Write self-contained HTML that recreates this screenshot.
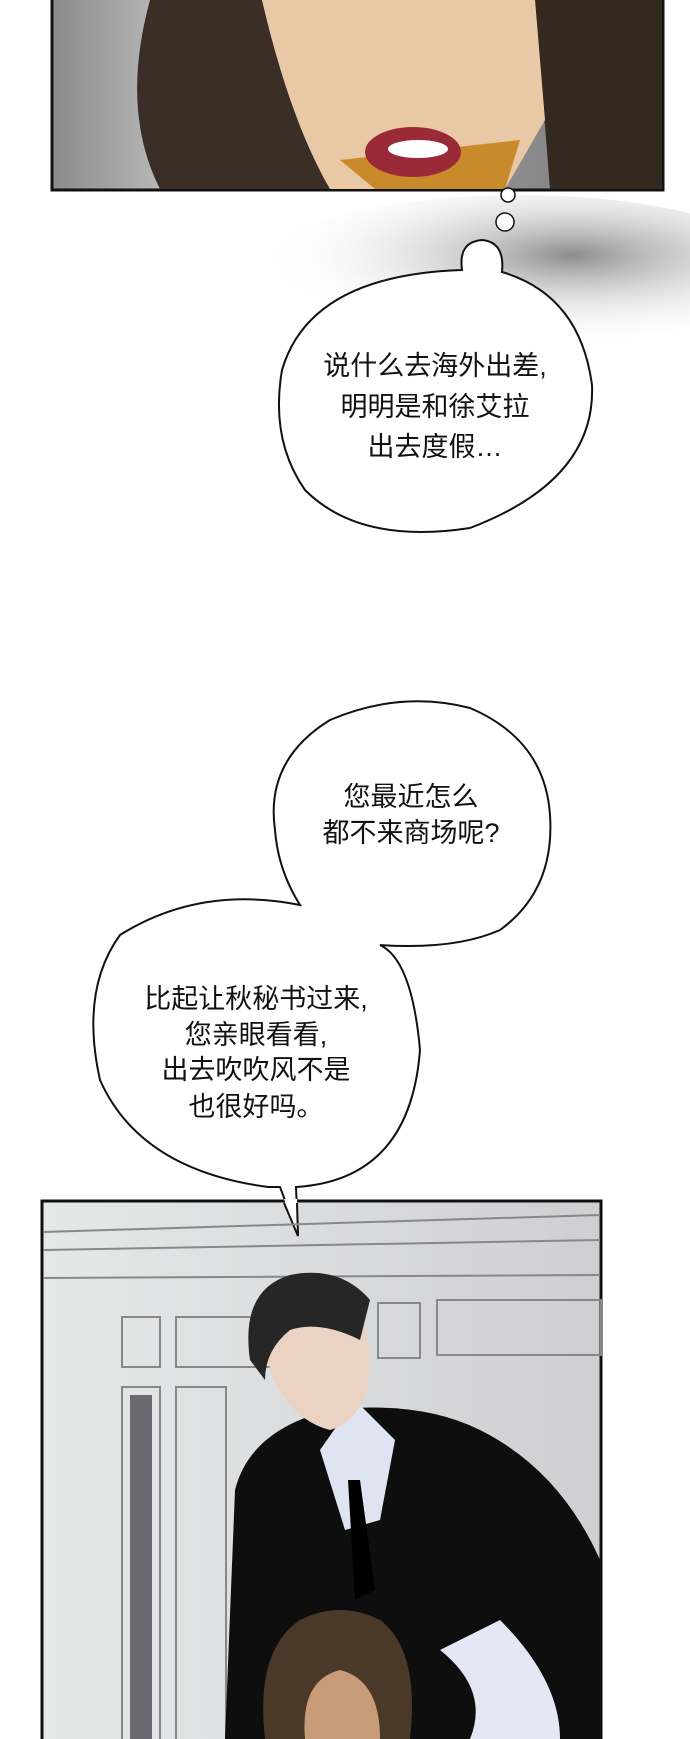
<!DOCTYPE html>
<html><head><meta charset="utf-8"><style>
body{margin:0;background:#fff;width:690px;height:1739px;overflow:hidden}
svg{display:block}
text{font-family:"Liberation Sans","Noto Sans CJK SC",sans-serif;font-size:27px;fill:#111;text-anchor:middle}
</style></head><body>
<svg width="690" height="1739" viewBox="0 0 690 1739">
<defs>
<linearGradient id="bg1" x1="0" x2="1"><stop offset="0" stop-color="#8a8a8a"/><stop offset="0.2" stop-color="#bdbdbd"/><stop offset="1" stop-color="#777"/></linearGradient>
<radialGradient id="smoke" cx="0.6" cy="0.4" r="0.6"><stop offset="0" stop-color="#666" stop-opacity="0.75"/><stop offset="1" stop-color="#fff" stop-opacity="0"/></radialGradient>
<linearGradient id="bg2" x1="0" x2="1"><stop offset="0" stop-color="#e6e8e8"/><stop offset="1" stop-color="#cfcfd2"/></linearGradient>
</defs>
<rect x="52" y="-2" width="611" height="192" fill="url(#bg1)" stroke="#111" stroke-width="3"/>
<path d="M150 0 Q120 110 160 189 L330 189 Q290 120 262 0Z" fill="#3a2e26"/>
<path d="M535 0 L550 189 L662 189 L662 0Z" fill="#34291f"/>
<path d="M262 0 Q290 120 330 189 L505 189 L545 120 L535 0Z" fill="#e9c8a6"/>
<path d="M340 160 L375 189 L505 189 L520 140Z" fill="#c88a2a"/>
<ellipse cx="413" cy="152" rx="48" ry="25" fill="#9a2a38"/>
<ellipse cx="418" cy="149" rx="30" ry="9" fill="#fff"/>
<ellipse cx="520" cy="270" rx="260" ry="75" fill="url(#smoke)"/>
<circle cx="508" cy="195" r="7" fill="#fff" stroke="#111" stroke-width="1.5"/>
<circle cx="505" cy="222" r="9" fill="#fff" stroke="#111" stroke-width="1.5"/>
<path d="M462 270 Q458 242 482 240 Q505 242 502 272 Q580 295 592 385 Q596 480 470 528 Q360 545 305 490 Q270 440 282 370 Q310 275 462 270Z" fill="#fff" stroke="#111" stroke-width="2"/>
<text x="435" y="375">说什么去海外出差,</text>
<text x="435" y="416">明明是和徐艾拉</text>
<text x="435" y="456">出去度假…</text>
<path d="M280 1187 L298 1235 L296 1187 Q410 1180 420 1050 Q412 960 380 945 Q455 950 500 930 Q555 890 550 815 Q545 740 470 708 Q400 690 330 720 Q265 760 275 830 Q278 870 300 905 Q200 885 120 935 Q80 990 100 1080 Q140 1170 268 1187Z" fill="#fff" stroke="#111" stroke-width="2"/>
<text x="411" y="806">您最近怎么</text>
<text x="411" y="842">都不来商场呢?</text>
<text x="256" y="1008">比起让秋秘书过来,</text>
<text x="256" y="1044">您亲眼看看,</text>
<text x="256" y="1079">出去吹吹风不是</text>
<text x="256" y="1116">也很好吗。</text>
<rect x="42" y="1201" width="559" height="546" fill="url(#bg2)" stroke="#111" stroke-width="3"/>
<path d="M284 1199 L297 1199 L298 1235Z" fill="#fff"/>
<path d="M284 1203 L298 1236 L297 1203" fill="none" stroke="#111" stroke-width="2"/>
<g fill="none" stroke="#888" stroke-width="2">
<line x1="44" y1="1232" x2="600" y2="1215"/><line x1="44" y1="1250" x2="600" y2="1240"/><line x1="44" y1="1278" x2="600" y2="1275"/>
<rect x="122" y="1317" width="38" height="50"/><rect x="176" y="1317" width="120" height="50"/>
<rect x="378" y="1303" width="42" height="55"/><rect x="437" y="1300" width="164" height="55"/>
<rect x="122" y="1387" width="38" height="360"/><rect x="176" y="1387" width="50" height="360"/>
</g>
<rect x="130" y="1395" width="22" height="344" fill="#6a6870"/>
<path d="M235 1490 Q250 1430 330 1410 Q420 1400 480 1430 Q560 1470 600 1560 L600 1739 L225 1739Z" fill="#0e0e0e"/>
<path d="M320 1450 L355 1400 L395 1440 L380 1520 L345 1530Z" fill="#dfe4f2"/>
<path d="M348 1480 L360 1480 L375 1590 L355 1600Z" fill="#000"/>
<path d="M260 1310 Q270 1270 330 1285 Q370 1300 370 1370 Q365 1420 330 1430 Q290 1420 270 1370Z" fill="#ead3c2"/>
<path d="M250 1360 Q240 1290 290 1275 Q340 1265 370 1300 L360 1340 Q320 1320 290 1330 Q265 1350 265 1380Z" fill="#262626"/>
<path d="M500 1620 Q560 1680 560 1739 L470 1739 Q490 1690 440 1650Z" fill="#e4e8f5"/>
<path d="M265 1739 Q255 1650 300 1620 Q340 1600 380 1620 Q420 1650 410 1739Z" fill="#4a3828"/>
<path d="M305 1739 Q300 1680 340 1670 Q380 1680 380 1739Z" fill="#c99c79"/>
</svg>
</body></html>
